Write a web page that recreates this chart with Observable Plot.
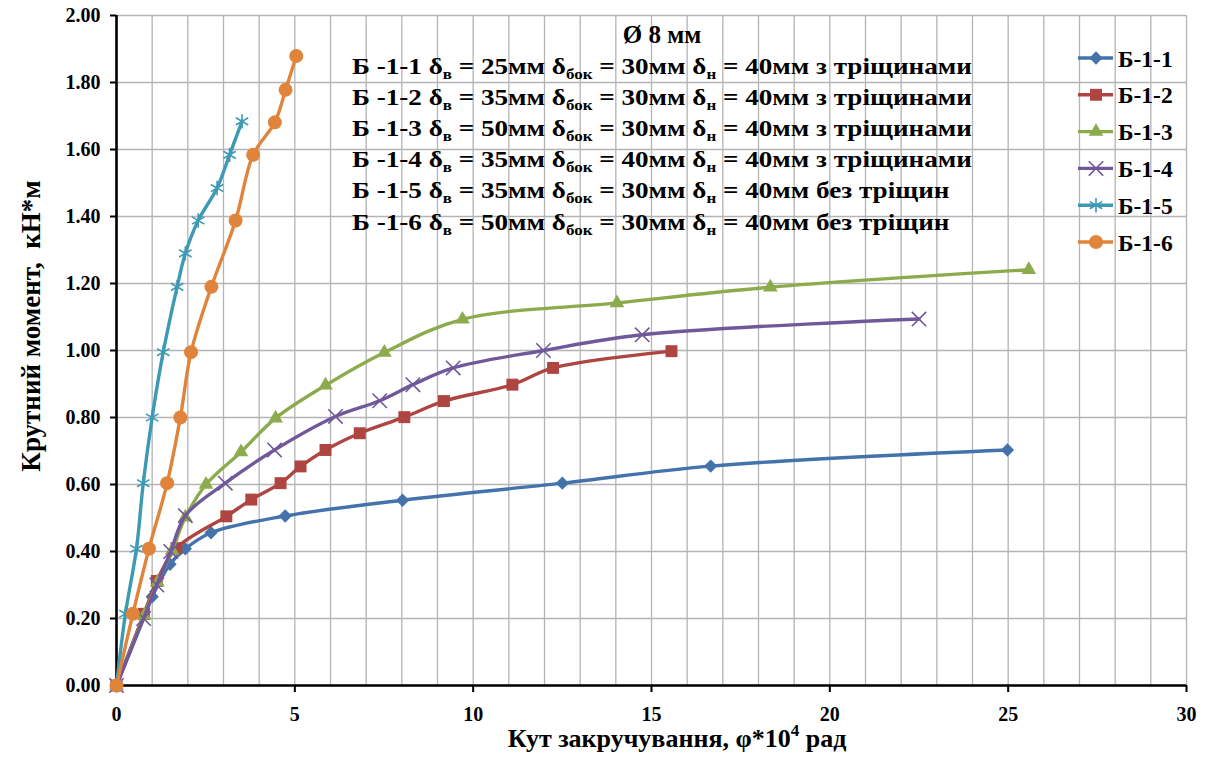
<!DOCTYPE html>
<html><head><meta charset="utf-8">
<script src="https://cdn.jsdelivr.net/npm/d3@7"></script>
<script src="https://cdn.jsdelivr.net/npm/@observablehq/plot@0.6"></script>
<style>
body{margin:0;background:#fff}
#chart svg, #chart svg text, #chart svg tspan { font-family: "Liberation Serif", "Times New Roman", serif !important; font-weight: bold; }
</style>
</head><body><div id="chart"></div>
<script>
const seriesNames = ["Б-1-1","Б-1-2","Б-1-3","Б-1-4","Б-1-5","Б-1-6"];
const colors = ["#4473AC","#AE4541","#8BAB4C","#71589A","#3D9AB5","#E0843C"];
const symbols = ["diamond2","square2","triangle2","times","asterisk","circle"];

const b11x = [0, 1.0, 1.5, 1.93, 2.65, 4.73, 8.02, 12.5, 16.66, 24.98];
const b11y = [0, 0.265, 0.362, 0.408, 0.456, 0.506, 0.553, 0.604, 0.655, 0.703];
const b12x = [0, 0.77, 1.13, 1.68, 3.08, 3.78, 4.6, 5.16, 5.86, 6.82, 8.07, 9.18, 11.1, 12.24, 15.56];
const b12y = [0, 0.214, 0.312, 0.41, 0.505, 0.555, 0.604, 0.654, 0.703, 0.753, 0.801, 0.849, 0.898, 0.948, 0.998];
const b13x = [0, 0.78, 1.15, 1.56, 1.93, 2.51, 3.49, 4.46, 5.86, 7.51, 9.7, 14.03, 18.33, 25.58];
const b13y = [0, 0.21, 0.308, 0.403, 0.502, 0.6, 0.697, 0.798, 0.896, 0.994, 1.093, 1.142, 1.189, 1.241];
const b14x = [0, 0.76, 1.13, 1.52, 1.93, 3.05, 4.43, 6.14, 7.38, 8.31, 9.44, 11.97, 14.74, 22.5];
const b14y = [0, 0.2, 0.3, 0.4, 0.507, 0.604, 0.703, 0.803, 0.85, 0.898, 0.948, 1.0, 1.047, 1.094];
const b15x = [0, 0.25, 0.56, 0.75, 1.0, 1.31, 1.70, 1.93, 2.29, 2.82, 3.17, 3.52];
const b15y = [0, 0.214, 0.408, 0.604, 0.80, 0.995, 1.19, 1.29, 1.388, 1.485, 1.584, 1.684];
const b16x = [0, 0.46, 0.91, 1.42, 1.79, 2.09, 2.66, 3.34, 3.83, 4.44, 4.74, 5.04];
const b16y = [0, 0.214, 0.408, 0.604, 0.80, 0.995, 1.19, 1.388, 1.584, 1.681, 1.778, 1.879];

const xTicks = [0, 5, 10, 15, 20, 25, 30];
const yTicks = [0, 0.2, 0.4, 0.6, 0.8, 1.0, 1.2, 1.4, 1.6, 1.8, 2.0];
const xGrid = d3.range(0, 31, 1);

const titleHead = "Ø 8 мм";
const specNames = ["Б -1-1","Б -1-2","Б -1-3","Б -1-4","Б -1-5","Б -1-6"];
const dV = [25, 35, 50, 35, 35, 50];
const dBok = [30, 30, 30, 40, 30, 30];
const dN = [40, 40, 40, 40, 40, 40];
const notes = ["з тріщинами","з тріщинами","з тріщинами","з тріщинами","без тріщин","без тріщин"];
const xLabel = ["Кут закручування, φ*10", "4", " рад"];
const yLabel = "Крутний момент,  кН*м";

const allX = [b11x,b12x,b13x,b14x,b15x,b16x];
const allY = [b11y,b12y,b13y,b14y,b15y,b16y];
const data = seriesNames.map((s, i) => allX[i].map((x, j) => ({series: s, x, y: allY[i][j]})));

const markR = [6.0, 7.6, 7.0, 6.6, 6.8, 7.0];
const marks = [
  Plot.gridX(xGrid, {stroke: "#b4b4b4", strokeOpacity: 1, strokeWidth: 1.3}),
  Plot.gridY(yTicks, {stroke: "#b4b4b4", strokeOpacity: 1, strokeWidth: 1.3}),
  Plot.axisX({ticks: xTicks, tickSize: 7, tickPadding: 14, tickFormat: d => String(d), fontSize: 20, strokeWidth: 2, label: null}),
  Plot.axisY({ticks: yTicks, tickSize: 6, tickPadding: 10, tickFormat: d3.format(".2f"), fontSize: 20, strokeWidth: 2, label: null}),
  Plot.ruleX([0], {stroke: "#000", strokeWidth: 2.6}),
  Plot.ruleY([0], {stroke: "#000", strokeWidth: 2.6})
];
data.forEach((d, i) => {
  marks.push(Plot.line(d, {x: "x", y: "y", stroke: colors[i], strokeWidth: 3.4, curve: "catmull-rom"}));
  const filled = !(symbols[i] === "times" || symbols[i] === "asterisk");
  marks.push(Plot.dot(d, {x: "x", y: "y", symbol: symbols[i], r: markR[i],
    fill: filled ? colors[i] : "none", stroke: filled ? "none" : colors[i], strokeWidth: 1.6}));
});

const chart = Plot.plot({
  width: 1206, height: 758,
  marginLeft: 116, marginRight: 20, marginTop: 15, marginBottom: 73,
  style: {color: "#000", background: "#fff", overflow: "visible"},
  x: {domain: [0, 30]},
  y: {domain: [0, 2]},
  marks
});
document.getElementById("chart").appendChild(chart);

const svg = d3.select(chart);
// title block
const tg = svg.append("g").attr("fill", "#000");
tg.append("text").attr("x", 662).attr("y", 43).attr("text-anchor", "middle").attr("font-size", 25).text(titleHead);
const lines = specNames.map((n, i) => {
  const t = tg.append("text").attr("text-anchor", "start").attr("font-size", 24)
    .attr("data-y", 73.5 + i * 31.2);
  t.append("tspan").text(n + " δ");
  t.append("tspan").attr("font-size", 15).attr("dy", 5).text("в");
  t.append("tspan").attr("dy", -5).text(" = " + dV[i] + "мм δ");
  t.append("tspan").attr("font-size", 15).attr("dy", 5).text("бок");
  t.append("tspan").attr("dy", -5).text(" = " + dBok[i] + "мм δ");
  t.append("tspan").attr("font-size", 15).attr("dy", 5).text("н");
  t.append("tspan").attr("dy", -5).text(" = " + dN[i] + "мм " + notes[i]);
  return t;
});
const sx = 620 / lines[0].node().getComputedTextLength();
lines.forEach(t => t.attr("transform", `translate(352,${t.attr("data-y")}) scale(${sx},1)`));
// axis labels
const xl = tg.append("text").attr("x", 677).attr("y", 747).attr("text-anchor", "middle").attr("font-size", 26);
xl.append("tspan").text(xLabel[0]);
xl.append("tspan").attr("font-size", 17).attr("dy", -11).text(xLabel[1]);
xl.append("tspan").attr("dy", 11).text(xLabel[2]);
tg.append("text").attr("transform", "translate(40,326) rotate(-90)").attr("text-anchor", "middle").attr("font-size", 27).text(yLabel);
// legend
const lg = svg.append("g");
const symMap = {diamond2: d3.symbolDiamond2, square2: d3.symbolSquare2, triangle2: d3.symbolTriangle2, times: d3.symbolTimes, asterisk: d3.symbolAsterisk, circle: d3.symbolCircle};
seriesNames.forEach((s, i) => {
  const y = 58 + i * 36.8;
  lg.append("line").attr("x1", 1078).attr("x2", 1113).attr("y1", y).attr("y2", y).attr("stroke", colors[i]).attr("stroke-width", 3.4);
  const filled = !(symbols[i] === "times" || symbols[i] === "asterisk");
  lg.append("path").attr("transform", `translate(1096,${y})`)
    .attr("d", d3.symbol(symMap[symbols[i]], markR[i] * markR[i] * Math.PI)())
    .attr("fill", filled ? colors[i] : "none").attr("stroke", filled ? "none" : colors[i]).attr("stroke-width", 1.6);
  lg.append("text").attr("x", 1118).attr("y", y + 8.5).attr("text-anchor", "start").attr("font-size", 23.5).attr("fill", "#000").text(s);
});
</script></body></html>
